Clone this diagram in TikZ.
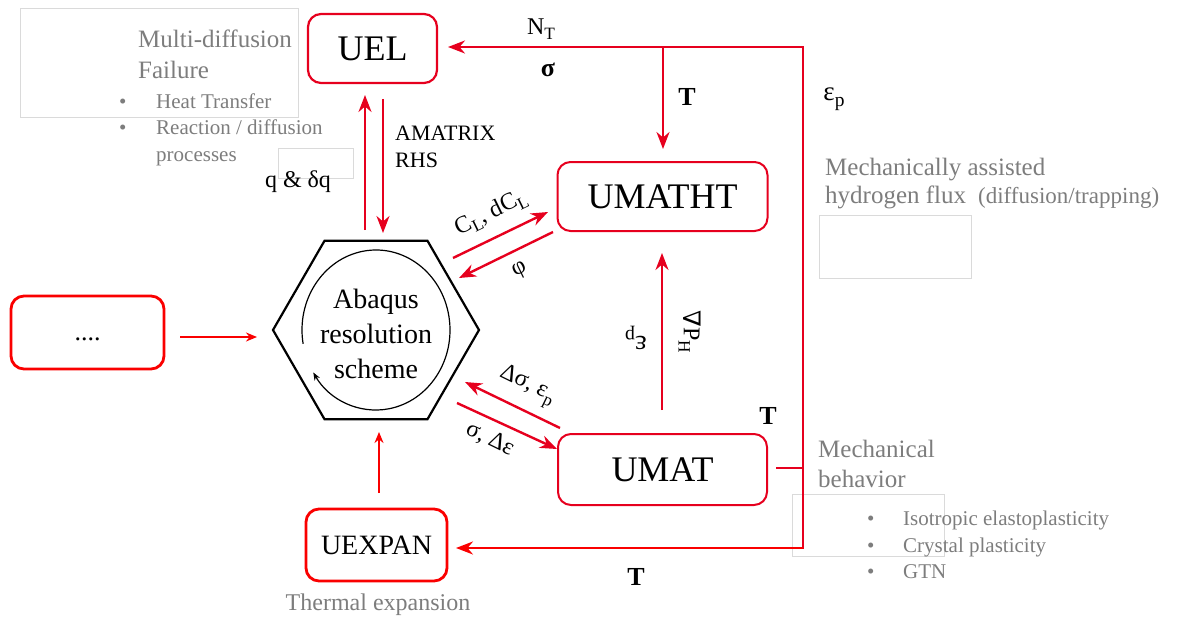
\documentclass[tikz,border=0pt]{standalone}
\usepackage{fontspec}
\usepackage{graphicx}
\setmainfont{Liberation Serif}
\newfontfamily\symf{DejaVu Serif}
\usetikzlibrary{arrows.meta,shapes.geometric}
\definecolor{myred}{RGB}{230,0,30}
\definecolor{brred}{RGB}{250,0,0}
\definecolor{txtgray}{RGB}{125,125,125}
\definecolor{boxgray}{RGB}{218,218,218}
\newcommand\fsz[2]{\fontsize{#1}{#2}\selectfont}
\newcommand\sbx[1]{\raisebox{-0.22em}{\scalebox{0.72}{#1}}}
\begin{document}
\begin{tikzpicture}[x=1pt,y=1pt,
  rbox/.style={draw=myred, line width=2.2pt, rounded corners=13pt, inner sep=0pt},
  conn/.style={myred, line width=2.4pt, -{Stealth[length=17pt,width=13pt]}},
  sconn/.style={brred, line width=2pt, -{Stealth[length=11pt,width=9pt]}},
  fb/.style={myred, line width=2.4pt, line cap=rect},
  lbl/.style={inner sep=0pt, font=\fsz{24}{28}},
  glbl/.style={inner sep=0pt, text=txtgray, anchor=base west},
  gbox/.style={draw=boxgray, line width=0.8pt},
  boldlbl/.style={inner sep=0pt, font=\fsz{26}{30}\bfseries}]
\useasboundingbox (0,0) rectangle (1184,-618);

% faint gray frames
\draw[gbox] (20,-8) rectangle (298,-117);
\draw[gbox] (278,-148) rectangle (353,-178);
\draw[gbox] (819,-215) rectangle (971,-278);
\draw[gbox] (792,-494) rectangle (944,-556);

% boxes
\node[rbox, minimum width=129pt, minimum height=69pt] (uel) at (372.5,-48.5) {\fsz{36}{40}UEL};
\node[rbox, line width=2pt, minimum width=210pt, minimum height=69pt] (umatht) at (662.5,-196.5) {\fsz{36}{40}UMATHT};
\node[rbox, line width=2pt, minimum width=209pt, minimum height=71pt] (umat) at (662.5,-469.5) {\fsz{36}{40}UMAT};
\node[rbox, draw=brred, line width=2.8pt, minimum width=141pt, minimum height=72pt] (uexpan) at (376.5,-545) {\fsz{28}{32}UEXPAN};
\node[rbox, draw=brred, line width=2.8pt, minimum width=153pt, minimum height=73pt, text height=16pt, text depth=0pt] (dots) at (87.5,-332.5) {\fsz{26}{30}....};

% hexagon
\node[draw, line width=2.2pt, regular polygon, regular polygon sides=6, minimum size=206pt, inner sep=0pt] (hex) at (376,-330) {};
\node[align=center, font=\fsz{28}{35}, inner sep=0pt] (abq) at (376,-334) {Abaqus\\resolution\\scheme};
\draw[line width=1.2pt, -{Stealth[length=8pt,width=6pt]}] ([shift={(190:74 and 80)}]hex.center) arc[start angle=190, end angle=-148, x radius=74, y radius=80];

% connector end points
\coordinate (q1) at (365,-230); \coordinate (q2) at (365,-95);
\coordinate (a1) at (383,-99);  \coordinate (a2) at (383,-233);
\coordinate (c1) at (453,-258); \coordinate (c2) at (548,-212);
\coordinate (f1) at (553,-232); \coordinate (f2) at (459,-278);
\coordinate (d1) at (560,-428); \coordinate (d2) at (465,-382);
\coordinate (s1) at (457,-403); \coordinate (s2) at (557,-449);
\coordinate (u1) at (662,-410); \coordinate (u2) at (662,-253);
\coordinate (p1) at (180,-337); \coordinate (p2) at (257,-337);
\coordinate (x1) at (379,-493); \coordinate (x2) at (379,-432);
\coordinate (tr) at (803,-47);  \coordinate (br) at (803,-548);
\coordinate (jn) at (663,-47);  \coordinate (mtin) at (663,-149);
\coordinate (uelin) at (448,-47); \coordinate (uexin) at (456,-548);
\coordinate (ms) at (777,-468); \coordinate (mj) at (803,-468);

\draw[conn] (q1) -- (q2);
\draw[conn] (a1) -- (a2);
\draw[conn] (c1) -- (c2);
\draw[conn] (f1) -- (f2);
\draw[conn] (d1) -- (d2);
\draw[conn] (s1) -- (s2);
\draw[conn] (u1) -- (u2);
\draw[sconn] (p1) -- (p2);
\draw[sconn] (x1) -- (x2);
\draw[fb] (br) -- (tr);
\draw[conn] (tr) -- (uelin);
\draw[conn] (jn) -- (mtin);
\draw[fb] (ms) -- (mj);
\draw[conn, brred] (br) -- (uexin);

% labels
\node[lbl] (nt) at (541,-29) {N\sbx{T}};
\node[boldlbl] (sig) at (548,-70) {σ};
\node[boldlbl] (t1) at (687,-97) {T};
\node[boldlbl] (t2) at (768,-416) {T};
\node[boldlbl] (t3) at (636,-577) {T};
\node[lbl, font=\fsz{27}{30}] (ep) at (834,-99) {ε\sbx{p}};
\node[lbl, font=\fsz{22}{27}, align=left, anchor=north west] (amx) at (395,-126) {AMATRIX\\RHS};
\node[lbl] (qdq) at (298,-182) {q \& δq};
\node[lbl, rotate=26] (cl) at (491,-213) {C\sbx{L}, dC\sbx{L}};
\node[lbl, rotate=26] (phi) at (520,-271) {φ};
\node[lbl, rotate=-26] (ds) at (527,-386) {Δσ, ε\sbx{p}};
\node[lbl, rotate=-26] (sd) at (490,-439) {σ, Δε};
\node[lbl, rotate=180, font=\fsz{28}{32}] (epv) at (636,-338) {ε\sbx{p}};
\node[lbl, rotate=-90] (gp) at (690,-332) {{\symf ∇}P\sbx{H}};

% gray annotations
\node[glbl, font=\fsz{25}{30}] (md1) at (138,-48) {Multi-diffusion};
\node[glbl, font=\fsz{25}{30}] (md2) at (138,-78) {Failure};
\node[glbl, font=\fsz{21}{25}] (b1) at (119,-108) {•};
\node[glbl, font=\fsz{21}{25}] (b1t) at (156,-108) {Heat Transfer};
\node[glbl, font=\fsz{21}{25}] (b2) at (119,-135) {•};
\node[glbl, font=\fsz{21}{25}] (b2t) at (156,-135) {Reaction / diffusion};
\node[glbl, font=\fsz{21}{25}] (b2u) at (156,-161) {processes};

\node[glbl, font=\fsz{25}{30}] (mh1) at (825,-175) {Mechanically assisted};
\node[glbl, font=\fsz{25}{30}] (mh2) at (825,-203) {hydrogen flux\hspace{12pt}{\fsz{23}{27}(diffusion/trapping)}};

\node[glbl, font=\fsz{25}{30}] (mb1) at (818,-457) {Mechanical};
\node[glbl, font=\fsz{25}{30}] (mb2) at (818,-487) {behavior};
\node[glbl, font=\fsz{21}{25}] (c1b) at (867,-525) {•};
\node[glbl, font=\fsz{21}{25}] (c1t) at (903,-525) {Isotropic elastoplasticity};
\node[glbl, font=\fsz{21}{25}] (c2b) at (867,-552) {•};
\node[glbl, font=\fsz{21}{25}] (c2t) at (903,-552) {Crystal plasticity};
\node[glbl, font=\fsz{21}{25}] (c3b) at (867,-578) {•};
\node[glbl, font=\fsz{21}{25}] (c3t) at (903,-578) {GTN};

\node[inner sep=0pt, text=txtgray, anchor=base, font=\fsz{24}{28}] (thx) at (378,-610) {Thermal expansion};
\end{tikzpicture}
\end{document}
